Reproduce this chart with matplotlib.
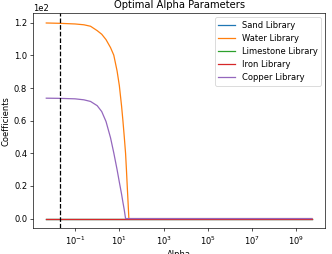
import matplotlib
matplotlib.use("Agg")
import matplotlib.pyplot as plt

alphas = [0.005, 0.02, 0.1, 0.25, 0.5, 1.0, 1.6, 2.5, 4.0, 5.6, 7.9, 10, 12.6, 14.5, 16.6,
          19.1, 20.9, 22.9, 25.1, 26.9, 100, 5e9]
sand = [0.0] * len(alphas)
water = [119.9, 119.7, 119.3, 118.8, 117.9, 115.2, 113.0, 109.7, 104.8, 100.2, 90.5, 81.5,
         69.0, 60.0, 50.5, 40.0, 30.0, 19.0, 8.5, 0.0, 0.0, 0.0]
limestone = [0.0] * len(alphas)
iron = [0.0] * len(alphas)
copper = [73.8, 73.7, 73.4, 72.8, 71.8, 69.2, 65.6, 59.5, 49.5, 40.3, 30.0, 22.3,
          15.0, 10.0, 5.5, 0.0, 0.0, 0.0, 0.0, 0.0, 0.0, 0.0]
series_names = ["Sand Library", "Water Library", "Limestone Library", "Iron Library", "Copper Library"]
best_alpha = 0.021
xtick_vals = [1e-1, 1e1, 1e3, 1e5, 1e7, 1e9]

plt.rcParams['font.family'] = ['DejaVu Sans']

DPI = 60
fig = plt.figure(figsize=(332 / DPI, 254 / DPI), dpi=DPI)
ax = fig.add_axes([0.0994, 0.101, 0.88, 0.847])

for vals, name in zip([sand, water, limestone, iron, copper], series_names):
    ax.plot(alphas, vals, label=name)
ax.axvline(best_alpha, color='black', linestyle='--')
ax.set_xscale('log')
ax.set_xticks(xtick_vals)
ax.xaxis.set_minor_locator(matplotlib.ticker.NullLocator())
ax.ticklabel_format(axis='y', style='sci', scilimits=(0, 0))
ax.set_title("Optimal Alpha Parameters")
ax.set_xlabel("Alpha")
ax.set_ylabel("Coefficients")
ax.legend(loc='upper right')

fig.savefig("out.png", dpi=DPI)
